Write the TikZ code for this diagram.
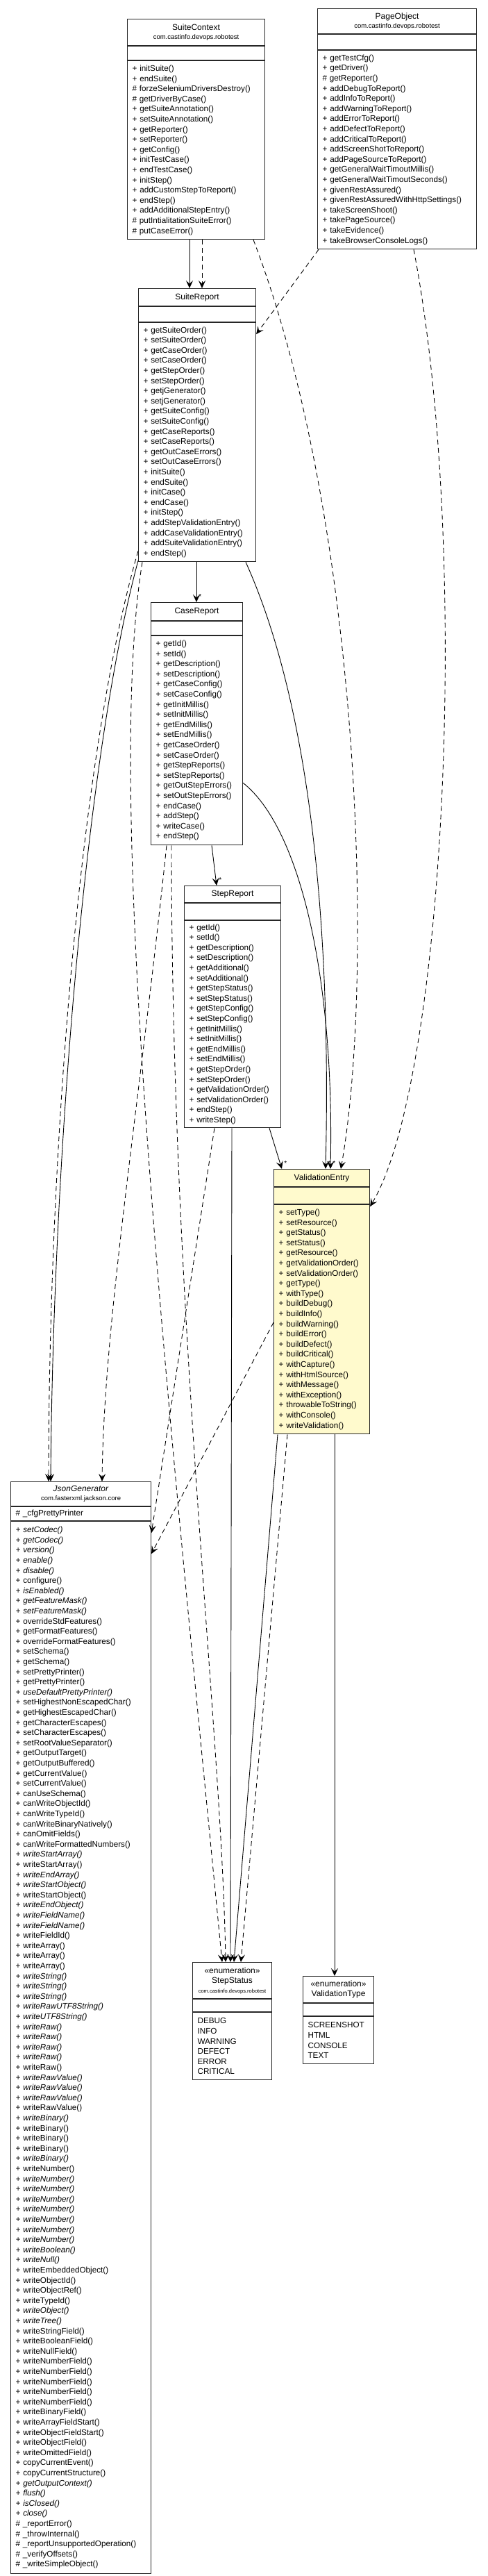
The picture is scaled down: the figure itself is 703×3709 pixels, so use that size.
\documentclass[tikz,border=0pt]{standalone}
\usepackage{fontspec}
\setmainfont{Liberation Sans}
\usetikzlibrary{positioning,arrows.meta}

\definecolor{chiffon}{RGB}{255,250,205}
\newcommand{\pkgname}[1]{{\fontsize{9.5}{11}\selectfont #1}}

\begin{document}
\begin{tikzpicture}[x=1pt, y=-1pt,
    compart/.style={draw=black!85, line width=1.1pt, fill=white, inner sep=0pt},
    hdr/.style={compart, anchor=north west, align=center, font=\fontsize{12}{14.6}\selectfont},
    blank/.style={compart},
    ops/.style={compart, inner xsep=7pt, align=left, font=\fontsize{11.7}{14.6}\selectfont},
    assoc/.style={line width=0.9pt, -{Stealth[length=11pt,width=10pt,inset=4.5pt]}},
    dep/.style={assoc, dash pattern=on 7pt off 5pt},
    mult/.style={font=\fontsize{10}{10}\selectfont, anchor=south west, inner sep=1pt, xshift=2pt, yshift=3pt}]

\useasboundingbox (0,0) rectangle (703,3709);

% SuiteContext
\node[hdr, minimum width=198, minimum height=38] (sc) at (183,27) {SuiteContext\\[-2pt]\pkgname{com.castinfo.devops.robotest}};
\node[blank, minimum width=198, minimum height=20, below=0pt of sc] (sc-a) {};
\node[ops, text width=184, minimum height=257, below=0pt of sc-a] (sc-o) {+ initSuite()\\+ endSuite()\\\# forzeSeleniumDriversDestroy()\\\# getDriverByCase()\\+ getSuiteAnnotation()\\+ setSuiteAnnotation()\\+ getReporter()\\+ setReporter()\\+ getConfig()\\+ initTestCase()\\+ endTestCase()\\+ initStep()\\+ addCustomStepToReport()\\+ endStep()\\+ addAdditionalStepEntry()\\\# putIntialitationSuiteError()\\\# putCaseError()};

% PageObject
\node[hdr, minimum width=229, minimum height=36] (po) at (457,12) {PageObject\\[-2pt]\pkgname{com.castinfo.devops.robotest}};
\node[blank, minimum width=229, minimum height=22, below=0pt of po] (po-a) {};
\node[ops, text width=215, minimum height=286, below=0pt of po-a] (po-o) {+ getTestCfg()\\+ getDriver()\\\# getReporter()\\+ addDebugToReport()\\+ addInfoToReport()\\+ addWarningToReport()\\+ addErrorToReport()\\+ addDefectToReport()\\+ addCriticalToReport()\\+ addScreenShotToReport()\\+ addPageSourceToReport()\\+ getGeneralWaitTimoutMillis()\\+ getGeneralWaitTimoutSeconds()\\+ givenRestAssured()\\+ givenRestAssuredWithHttpSettings()\\+ takeScreenShoot()\\+ takePageSource()\\+ takeEvidence()\\+ takeBrowserConsoleLogs()};

% SuiteReport
\node[hdr, minimum width=169, minimum height=25] (sr) at (199,415) {SuiteReport};
\node[blank, minimum width=169, minimum height=22, below=0pt of sr] (sr-a) {};
\node[ops, text width=155, minimum height=344, below=0pt of sr-a] (sr-o) {+ getSuiteOrder()\\+ setSuiteOrder()\\+ getCaseOrder()\\+ setCaseOrder()\\+ getStepOrder()\\+ setStepOrder()\\+ getjGenerator()\\+ setjGenerator()\\+ getSuiteConfig()\\+ setSuiteConfig()\\+ getCaseReports()\\+ setCaseReports()\\+ getOutCaseErrors()\\+ setOutCaseErrors()\\+ initSuite()\\+ endSuite()\\+ initCase()\\+ endCase()\\+ initStep()\\+ addStepValidationEntry()\\+ addCaseValidationEntry()\\+ addSuiteValidationEntry()\\+ endStep()};

% CaseReport
\node[hdr, minimum width=132, minimum height=26] (cr) at (217,867) {CaseReport};
\node[blank, minimum width=132, minimum height=20, below=0pt of cr] (cr-a) {};
\node[ops, text width=118, minimum height=301, below=0pt of cr-a] (cr-o) {+ getId()\\+ setId()\\+ getDescription()\\+ setDescription()\\+ getCaseConfig()\\+ setCaseConfig()\\+ getInitMillis()\\+ setInitMillis()\\+ getEndMillis()\\+ setEndMillis()\\+ getCaseOrder()\\+ setCaseOrder()\\+ getStepReports()\\+ setStepReports()\\+ getOutStepErrors()\\+ setOutStepErrors()\\+ endCase()\\+ addStep()\\+ writeCase()\\+ endStep()};

% StepReport
\node[hdr, minimum width=139, minimum height=24] (st) at (265,1275) {StepReport};
\node[blank, minimum width=139, minimum height=24, below=0pt of st] (st-a) {};
\node[ops, text width=125, minimum height=298, below=0pt of st-a] (st-o) {+ getId()\\+ setId()\\+ getDescription()\\+ setDescription()\\+ getAdditional()\\+ setAdditional()\\+ getStepStatus()\\+ setStepStatus()\\+ getStepConfig()\\+ setStepConfig()\\+ getInitMillis()\\+ setInitMillis()\\+ getEndMillis()\\+ setEndMillis()\\+ getStepOrder()\\+ setStepOrder()\\+ getValidationOrder()\\+ setValidationOrder()\\+ endStep()\\+ writeStep()};

% ValidationEntry
\node[hdr, fill=chiffon, minimum width=138, minimum height=25] (ve) at (394,1683) {ValidationEntry};
\node[blank, fill=chiffon, minimum width=138, minimum height=24, below=0pt of ve] (ve-a) {};
\node[ops, fill=chiffon, text width=124, minimum height=330, below=0pt of ve-a] (ve-o) {+ setType()\\+ setResource()\\+ getStatus()\\+ setStatus()\\+ getResource()\\+ getValidationOrder()\\+ setValidationOrder()\\+ getType()\\+ withType()\\+ buildDebug()\\+ buildInfo()\\+ buildWarning()\\+ buildError()\\+ buildDefect()\\+ buildCritical()\\+ withCapture()\\+ withHtmlSource()\\+ withMessage()\\+ withException()\\+ throwableToString()\\+ withConsole()\\+ writeValidation()};

% JsonGenerator
\node[hdr, minimum width=202, minimum height=35] (jg) at (15,2133) {\textit{JsonGenerator}\\[-2pt]\pkgname{com.fasterxml.jackson.core}};
\node[ops, text width=188, minimum height=20, below=0pt of jg] (jg-a) {\# \_cfgPrettyPrinter};
\node[ops, text width=188, minimum height=1515, below=0pt of jg-a] (jg-o) {\textit{+ setCodec()}\\\textit{+ getCodec()}\\\textit{+ version()}\\\textit{+ enable()}\\\textit{+ disable()}\\+ configure()\\\textit{+ isEnabled()}\\\textit{+ getFeatureMask()}\\\textit{+ setFeatureMask()}\\+ overrideStdFeatures()\\+ getFormatFeatures()\\+ overrideFormatFeatures()\\+ setSchema()\\+ getSchema()\\+ setPrettyPrinter()\\+ getPrettyPrinter()\\\textit{+ useDefaultPrettyPrinter()}\\+ setHighestNonEscapedChar()\\+ getHighestEscapedChar()\\+ getCharacterEscapes()\\+ setCharacterEscapes()\\+ setRootValueSeparator()\\+ getOutputTarget()\\+ getOutputBuffered()\\+ getCurrentValue()\\+ setCurrentValue()\\+ canUseSchema()\\+ canWriteObjectId()\\+ canWriteTypeId()\\+ canWriteBinaryNatively()\\+ canOmitFields()\\+ canWriteFormattedNumbers()\\\textit{+ writeStartArray()}\\+ writeStartArray()\\\textit{+ writeEndArray()}\\\textit{+ writeStartObject()}\\+ writeStartObject()\\\textit{+ writeEndObject()}\\\textit{+ writeFieldName()}\\\textit{+ writeFieldName()}\\+ writeFieldId()\\+ writeArray()\\+ writeArray()\\+ writeArray()\\\textit{+ writeString()}\\\textit{+ writeString()}\\\textit{+ writeString()}\\\textit{+ writeRawUTF8String()}\\\textit{+ writeUTF8String()}\\\textit{+ writeRaw()}\\\textit{+ writeRaw()}\\\textit{+ writeRaw()}\\\textit{+ writeRaw()}\\+ writeRaw()\\\textit{+ writeRawValue()}\\\textit{+ writeRawValue()}\\\textit{+ writeRawValue()}\\+ writeRawValue()\\\textit{+ writeBinary()}\\+ writeBinary()\\+ writeBinary()\\+ writeBinary()\\\textit{+ writeBinary()}\\+ writeNumber()\\\textit{+ writeNumber()}\\\textit{+ writeNumber()}\\\textit{+ writeNumber()}\\\textit{+ writeNumber()}\\\textit{+ writeNumber()}\\\textit{+ writeNumber()}\\\textit{+ writeNumber()}\\\textit{+ writeBoolean()}\\\textit{+ writeNull()}\\+ writeEmbeddedObject()\\+ writeObjectId()\\+ writeObjectRef()\\+ writeTypeId()\\\textit{+ writeObject()}\\\textit{+ writeTree()}\\+ writeStringField()\\+ writeBooleanField()\\+ writeNullField()\\+ writeNumberField()\\+ writeNumberField()\\+ writeNumberField()\\+ writeNumberField()\\+ writeNumberField()\\+ writeBinaryField()\\+ writeArrayFieldStart()\\+ writeObjectFieldStart()\\+ writeObjectField()\\+ writeOmittedField()\\+ copyCurrentEvent()\\+ copyCurrentStructure()\\\textit{+ getOutputContext()}\\\textit{+ flush()}\\\textit{+ isClosed()}\\\textit{+ close()}\\\# \_reportError()\\\# \_throwInternal()\\\# \_reportUnsupportedOperation()\\\# \_verifyOffsets()\\\# \_writeSimpleObject()};

% StepStatus
\node[hdr, minimum width=114, minimum height=52] (ss) at (277,2825) {«enumeration»\\StepStatus\\[-1pt]{\fontsize{7.5}{9}\selectfont com.castinfo.devops.robotest}};
\node[blank, minimum width=114, minimum height=18, below=0pt of ss] (ss-a) {};
\node[ops, text width=100, minimum height=97, below=0pt of ss-a] (ss-o) {DEBUG\\INFO\\WARNING\\DEFECT\\ERROR\\CRITICAL};

% ValidationType
\node[hdr, minimum width=102, minimum height=38] (vt) at (436,2845) {«enumeration»\\ValidationType};
\node[blank, minimum width=102, minimum height=18, below=0pt of vt] (vt-a) {};
\node[ops, text width=88, minimum height=68, below=0pt of vt-a] (vt-o) {SCREENSHOT\\HTML\\CONSOLE\\TEXT};

% connectors
\draw[assoc] ([xshift=90]sc-o.south west) -- ([xshift=74]sr.north west);
\draw[dep] ([xshift=108]sc-o.south west) -- ([xshift=92]sr.north west);
\draw[dep] ([xshift=182]sc-o.south west) .. controls (520,750) and (540,1406) .. ([xshift=97]ve.north west);
\draw[dep] ([xshift=2]po-o.south west) -- ([yshift=-17]sr-o.north east);
\draw[dep] ([xshift=139]po-o.south west) .. controls (680,800) and (640,1560) .. ([yshift=-3]ve-o.north east);
\draw[assoc] ([xshift=84]sr-o.south west) -- ([xshift=66]cr.north west) node[mult] {*};
\draw[assoc] ([xshift=155]sr-o.south west) .. controls (440,1000) and (478,1300) .. ([xshift=75]ve.north west) node[mult] {*};
\draw[assoc] ([yshift=-212]cr-o.north east) .. controls (430,1190) and (482,1400) .. ([xshift=82]ve.north west) node[mult] {*};
\draw[assoc] ([xshift=88]cr-o.south west) -- ([xshift=47]st.north west) node[mult] {*};
\draw[assoc] ([xshift=123]st-o.south west) -- ([xshift=12]ve.north west) node[mult] {*};
\draw[assoc] ([xshift=69]st-o.south west) -- ([xshift=55]ss.north west);
\draw[dep] ([yshift=16]sr-o.south west) .. controls (110,1100) and (70,1700) .. ([xshift=55]jg.north west);
\draw[assoc] ([yshift=2]sr-o.south west) .. controls (120,1100) and (76,1700) .. ([xshift=58]jg.north west);
\draw[dep] ([xshift=6]sr-o.south west) .. controls (150,1150) and (240,2000) .. ([xshift=43]ss.north west);
\draw[dep] ([xshift=23]cr-o.south west) .. controls (200,1600) and (150,1900) .. ([xshift=132]jg.north west);
\draw[dep] ([xshift=30]cr-o.south west) .. controls (247,1900) and (320,2500) .. ([xshift=48]ss.north west);
\draw[dep] ([xshift=44]st-o.south west) -- ([yshift=-17]jg-o.north east);
\draw[dep] ([yshift=-170]ve-o.north west) -- ([yshift=-47]jg-o.north east);
\draw[assoc] ([xshift=6]ve-o.south west) -- ([xshift=60]ss.north west);
\draw[dep] ([xshift=20]ve-o.south west) -- ([xshift=70]ss.north west);
\draw[assoc] ([xshift=88]ve-o.south west) -- ([xshift=46]vt.north west);

\end{tikzpicture}
\end{document}
